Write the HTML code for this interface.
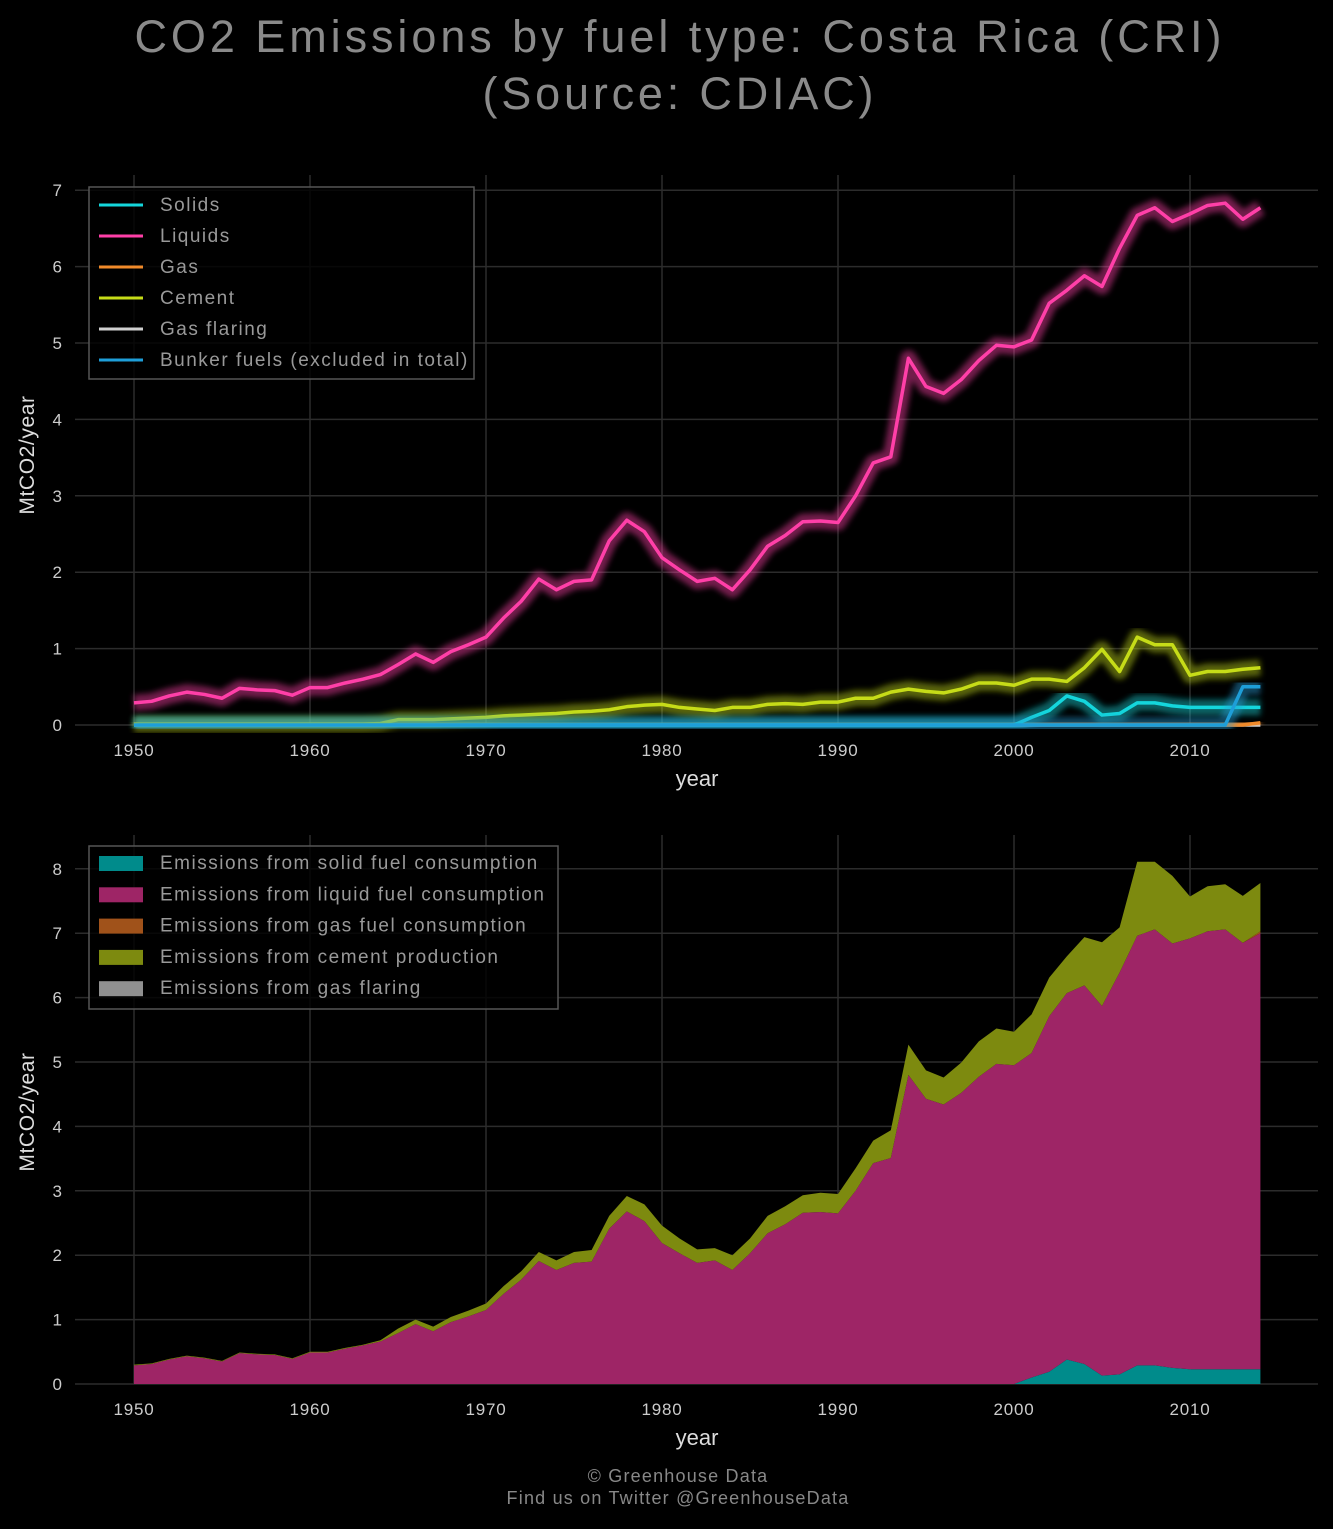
<!DOCTYPE html>
<html><head><meta charset="utf-8"><style>
body{margin:0;background:#000;width:1333px;height:1524px;overflow:hidden;font-family:"Liberation Sans",sans-serif}
svg text{font-family:"Liberation Sans",sans-serif}
</style></head><body>
<svg id="svg" width="1333" height="1524" xmlns="http://www.w3.org/2000/svg">
<defs><filter id="glow" x="-10%" y="-10%" width="120%" height="120%"><feGaussianBlur stdDeviation="3"/></filter></defs>
<text x="678" y="52" text-anchor="middle" font-size="45" fill="#8a8a8a" textLength="1087" lengthAdjust="spacing">CO2 Emissions by fuel type: Costa Rica (CRI)</text>
<text x="678" y="109" text-anchor="middle" font-size="45" fill="#8a8a8a" textLength="391" lengthAdjust="spacing">(Source: CDIAC)</text>
<g id="top"></g><g id="bot"></g>
<text x="678" y="1482" text-anchor="middle" font-size="18" fill="#888" letter-spacing="1.2">© Greenhouse Data</text>
<text x="678" y="1504" text-anchor="middle" font-size="18" fill="#888" letter-spacing="1.2">Find us on Twitter @GreenhouseData</text>
</svg>
<script>
const years=[];for(let y=1950;y<=2014;y++)years.push(y);
const liquids=[0.29,0.31,0.38,0.43,0.40,0.35,0.48,0.46,0.45,0.39,0.49,0.49,0.55,0.60,0.66,0.79,0.93,0.82,0.96,1.05,1.15,1.40,1.62,1.91,1.77,1.88,1.90,2.41,2.68,2.53,2.19,2.03,1.88,1.92,1.77,2.03,2.34,2.48,2.66,2.67,2.65,3.00,3.43,3.51,4.80,4.43,4.34,4.52,4.77,4.97,4.95,5.04,5.52,5.69,5.88,5.74,6.24,6.67,6.77,6.59,6.69,6.80,6.83,6.62,6.77];
const cement=[0.01,0.01,0.01,0.01,0.01,0.01,0.01,0.01,0.01,0.01,0.01,0.01,0.01,0.01,0.02,0.07,0.07,0.07,0.08,0.09,0.10,0.12,0.13,0.14,0.15,0.17,0.18,0.20,0.24,0.26,0.27,0.23,0.21,0.19,0.23,0.23,0.27,0.28,0.27,0.30,0.30,0.35,0.35,0.43,0.47,0.44,0.42,0.47,0.55,0.55,0.52,0.60,0.60,0.57,0.75,0.99,0.70,1.15,1.05,1.05,0.65,0.70,0.70,0.73,0.75];
const solids=[0,0,0,0,0,0,0,0,0,0,0,0,0,0,0,0,0,0,0,0,0,0,0,0,0,0,0,0,0,0,0,0,0,0,0,0,0,0,0,0,0,0,0,0,0,0,0,0,0,0,0,0.10,0.19,0.38,0.31,0.13,0.15,0.29,0.29,0.25,0.23,0.23,0.23,0.23,0.23];
const gas=years.map(y=>y===2014?0.03:0);
const flaring=years.map(()=>0);
const bunker=years.map(y=>y>=2013?0.5:0);
const xTicks=[1950,1960,1970,1980,1990,2000,2010];
const topYTicks=[0,1,2,3,4,5,6,7];
const botYTicks=[0,1,2,3,4,5,6,7,8];
const NS="http://www.w3.org/2000/svg";
const X=y=>134+(y-1950)*17.6;
function mk(p,t,a){const e=document.createElementNS(NS,t);for(const k in a)e.setAttribute(k,a[k]);p.appendChild(e);return e;}
function axes(g,Y,ticks,top,bottom,lblY,name){
  for(const t of ticks){const l=mk(g,'line',{x1:75,x2:1318,y1:Y(t),y2:Y(t),stroke:'#2c2c2c','stroke-width':1.5});
    
    const tx=mk(g,'text',{x:62,y:Y(t)+6,'text-anchor':'end','font-size':17,fill:'#ccc'});tx.textContent=t;
    }
  for(const t of xTicks){const l=mk(g,'line',{x1:X(t),x2:X(t),y1:top,y2:bottom,stroke:'#2c2c2c','stroke-width':1.5});
    
    const tx=mk(g,'text',{x:X(t),y:bottom+31,'text-anchor':'middle','font-size':17,fill:'#ccc','letter-spacing':0.8});tx.textContent=t;
    }
  const xl=mk(g,'text',{x:697,y:bottom+61,'text-anchor':'middle','font-size':22,fill:'#ddd'});xl.textContent='year';
  
  const yl=mk(g,'text',{x:0,y:0,'text-anchor':'middle','font-size':21,fill:'#ddd','letter-spacing':0.6,transform:`translate(34,${lblY}) rotate(-90)`});yl.textContent='MtCO2/year';
  
}
const gt=document.getElementById('top');
const Yt=v=>725-v*76.4;
axes(gt,Yt,topYTicks,175,725,455,'top');
const series=[['solids',solids,'#14d6dc'],['liquids',liquids,'#ff3fa8'],['gas',gas,'#f08a2a'],['cement',cement,'#c6dc18'],['gas-flaring',flaring,'#d0d0d0'],['bunker',bunker,'#1e9ed8']];
const order=[4,2,0,3,5,1];
for(const i of order){const [n,d,c]=series[i];
  const pts=d.map((v,k)=>X(years[k])+','+Yt(v)).join(' ');
  const gl=mk(gt,'polyline',{points:pts,fill:'none',stroke:c,'stroke-width':16,'stroke-opacity':0.45,filter:'url(#glow)','stroke-linejoin':'round'});
  
  const l=mk(gt,'polyline',{points:pts,fill:'none',stroke:c,'stroke-width':3.5,'stroke-linejoin':'round'});
  }
const lt=mk(gt,'rect',{x:89,y:187,width:385,height:192,fill:'#000','fill-opacity':0.8,stroke:'#555','stroke-width':1.5});

const tl=['Solids','Liquids','Gas','Cement','Gas flaring','Bunker fuels (excluded in total)'];
tl.forEach((s,i)=>{const y=205+i*31;
  const l=mk(gt,'line',{x1:99,x2:143,y1:y,y2:y,stroke:series[i][2],'stroke-width':3});
  
  const t=mk(gt,'text',{x:160,y:y+6,'font-size':19,fill:'#999','letter-spacing':1.5});t.textContent=s;
  });
const gb=document.getElementById('bot');
const Yb=v=>1384-v*64.4;
axes(gb,Yb,botYTicks,835,1384,1112,'bottom');
const stack=[['solid',solids,'#008b8b'],['liquid',liquids,'#9e2566'],['gas',gas,'#a0521a'],['cement',cement,'#7d8a0f'],['gas-flaring',flaring,'#909090']];
let base=years.map(()=>0);
for(const [n,d,c] of stack){const top=base.map((b,k)=>b+d[k]);
  let p='M'+years.map((y,k)=>X(y)+','+Yb(top[k])).join(' L');
  for(let k=years.length-1;k>=0;k--)p+=' L'+X(years[k])+','+Yb(base[k]);
  const a=mk(gb,'path',{d:p+'Z',fill:c});
  
  base=top;}
const lb=mk(gb,'rect',{x:89,y:846,width:469,height:163,fill:'#000','fill-opacity':0.8,stroke:'#555','stroke-width':1.5});

const bl=['Emissions from solid fuel consumption','Emissions from liquid fuel consumption','Emissions from gas fuel consumption','Emissions from cement production','Emissions from gas flaring'];
bl.forEach((s,i)=>{const y=863+i*31.3;
  const r=mk(gb,'rect',{x:99,y:y-7,width:44,height:15,fill:stack[i][2]});
  
  const t=mk(gb,'text',{x:160,y:y+6,'font-size':19,fill:'#999','letter-spacing':1.5});t.textContent=s;
  });
</script>
</body></html>
